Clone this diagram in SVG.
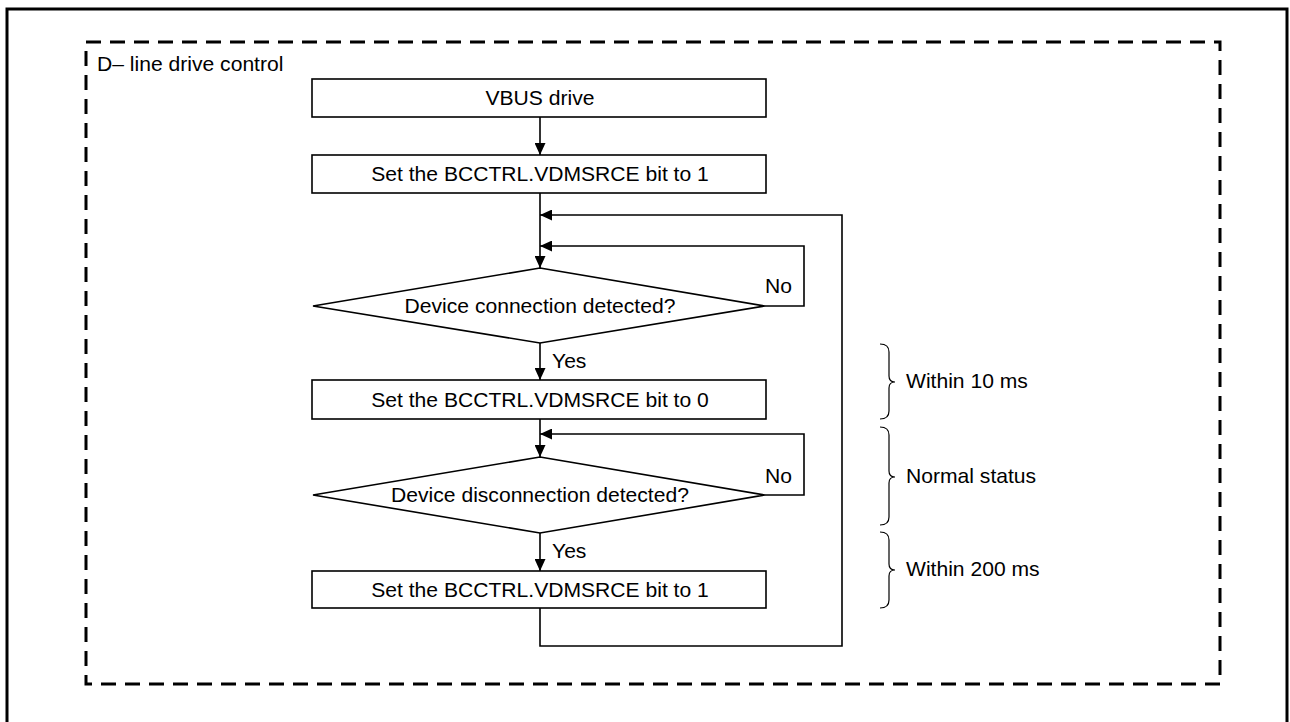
<svg xmlns="http://www.w3.org/2000/svg" width="1290" height="722" viewBox="0 0 1290 722">
<style>
  .frame{fill:none;stroke:#000;stroke-width:3}
  .dash{fill:none;stroke:#000;stroke-width:3;stroke-dasharray:15 9}
  .box{fill:#fff;stroke:#000;stroke-width:1.6}
  .ln{fill:none;stroke:#000;stroke-width:1.6}
  .arr{fill:none;stroke:#000;stroke-width:1.6;marker-end:url(#ah)}
  .br{fill:none;stroke:#000;stroke-width:1.2}
  text{font-family:"Liberation Sans",Arial,sans-serif;font-size:21.1px;fill:#000}
  .c{text-anchor:middle}
</style>
<defs>
  <marker id="ah" markerUnits="userSpaceOnUse" markerWidth="12" markerHeight="11" refX="12" refY="5.5" orient="auto">
    <path d="M0,0 L12,5.5 L0,11 z" fill="#000"/>
  </marker>
</defs>
<rect x="0" y="0" width="1290" height="722" fill="#fff"/>
<rect class="frame" x="7" y="9" width="1280" height="740"/>
<rect class="dash" x="86" y="42" width="1134" height="642"/>
<text x="97" y="71">D– line drive control</text>

<g id="connectors">
  <path class="arr" d="M540,117 L540,155"/>
  <path class="arr" d="M540,193 L540,268"/>
  <path class="arr" d="M765,306 L804,306 L804,246 L540,246"/>
  <path class="arr" d="M540,343 L540,380"/>
  <path class="arr" d="M540,419 L540,457"/>
  <path class="arr" d="M765,495 L804,495 L804,434 L540,434"/>
  <path class="arr" d="M540,533 L540,571"/>
  <path class="arr" d="M540,608 L540,646 L842,646 L842,215 L540,215"/>
  <text x="552" y="368">Yes</text>
  <text x="552" y="558">Yes</text>
  <text x="765" y="293">No</text>
  <text x="765" y="483">No</text>
</g>

<g id="n1">
  <rect class="box" x="312" y="79" width="454" height="38"/>
  <text class="c" x="540" y="105">VBUS drive</text>
</g>
<g id="n2">
  <rect class="box" x="312" y="155" width="454" height="38"/>
  <text class="c" x="540" y="181">Set the BCCTRL.VDMSRCE bit to 1</text>
</g>
<g id="d1">
  <polygon class="box" points="540,268 765,306 540,343 313,306"/>
  <text class="c" x="540" y="313">Device connection detected?</text>
</g>
<g id="n3">
  <rect class="box" x="312" y="380" width="454" height="39"/>
  <text class="c" x="540" y="407">Set the BCCTRL.VDMSRCE bit to 0</text>
</g>
<g id="d2">
  <polygon class="box" points="540,457 765,495 540,533 313,495"/>
  <text class="c" x="540" y="502">Device disconnection detected?</text>
</g>
<g id="n4">
  <rect class="box" x="312" y="571" width="454" height="37"/>
  <text class="c" x="540" y="597">Set the BCCTRL.VDMSRCE bit to 1</text>
</g>

<g id="b1">
  <path class="br" d="M880,344 Q889,344 889,352 L889,376 Q889,382 895,382 Q889,382 889,388 L889,411 Q889,419 880,419"/>
  <text x="906" y="388">Within 10 ms</text>
</g>
<g id="b2">
  <path class="br" d="M880,427 Q889,427 889,435 L889,471 Q889,477 895,477 Q889,477 889,483 L889,517 Q889,525 880,525"/>
  <text x="906" y="483">Normal status</text>
</g>
<g id="b3">
  <path class="br" d="M880,532 Q889,532 889,540 L889,564 Q889,570 895,570 Q889,570 889,576 L889,600 Q889,608 880,608"/>
  <text x="906" y="576">Within 200 ms</text>
</g>
</svg>
